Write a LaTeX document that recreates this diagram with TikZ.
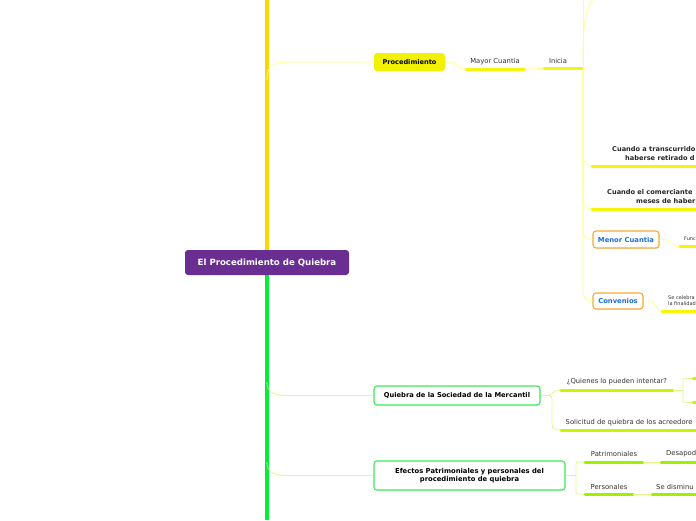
\documentclass[tikz,border=0pt]{standalone}
\usepackage{fontspec}
\setmainfont{DejaVu Sans}
\usetikzlibrary{shadows}
\definecolor{gold}{RGB}{255,215,0}
\definecolor{vgreen}{RGB}{0,238,51}
\definecolor{rootpurple}{RGB}{106,45,145}
\definecolor{ybox}{RGB}{242,242,0}
\definecolor{yline}{RGB}{245,245,10}
\definecolor{ythin}{RGB}{255,255,140}
\definecolor{lime}{RGB}{200,245,0}
\definecolor{limethin}{RGB}{220,250,140}
\definecolor{lgreen}{RGB}{160,240,0}
\definecolor{boxgreen}{RGB}{60,235,90}
\definecolor{orangeb}{RGB}{245,170,50}
\definecolor{blueT}{RGB}{30,110,220}
\begin{document}
\begin{tikzpicture}[x=1pt,y=-1pt,
  small/.style={font=\fontsize{6.8}{8}\selectfont, text=black!80, inner sep=0pt},
  tiny/.style={font=\fontsize{5}{6.2}\selectfont, text=black!80, inner sep=0pt, align=left},
  bsmall/.style={font=\fontsize{6.6}{8}\bfseries\selectfont, text=black!85, inner sep=0pt},
  boxw/.style={draw, line width=1.1pt, fill=white, rounded corners=3pt, drop shadow={opacity=0.12, shadow xshift=0.6pt, shadow yshift=-1pt}, align=center, inner sep=0pt},
  uline/.style={line width=3pt, line cap=round},
  thin/.style={line width=0.8pt}]
\useasboundingbox (0,0) rectangle (696,520);
\fill[white] (0,0) rectangle (696,520);
\begin{scope}
\clip (0,0) rectangle (696,520);
% main stems
\draw[gold, line width=3.5pt] (267,0) -- (267,250);
\draw[vgreen, line width=3.5pt] (267,275) -- (267,520);

% root
\node[fill=rootpurple, rounded corners=3pt, minimum width=164pt, minimum height=25pt, inner sep=0pt,
  text=white, font=\fontsize{8.6}{10}\bfseries\selectfont] (root) at (267,262.5) {El Procedimiento de Quiebra};

% Procedimiento branch
\node[fill=ybox, rounded corners=3pt, minimum width=71pt, minimum height=18pt, inner sep=0pt,
  font=\fontsize{6.6}{8}\bfseries\selectfont] (proc) at (409.5,62) {Procedimiento};
\coordinate (p0) at (267,80);
\draw[ythin, thin] (p0) .. controls (267,66) and (272,62) .. (290,62) -- (proc.west);

\node[small] (mayor) at (495,61.5) {Mayor Cuantia};
\coordinate (mu1) at (466,69); \coordinate (mu2) at (525,69);
\draw[ythin, thin] (proc.east) -- (452,62) .. controls (457,62) and (456,69) .. (mu1);
\draw[yline, uline] (mu1) -- (mu2);

\node[small] (inicia) at (558,60.5) {Inicia};
\coordinate (iu1) at (544,68.5); \coordinate (stem) at (583,68.5);
\draw[ythin, thin] (mu2) -- (iu1);
\draw[yline, uline] (iu1) -- (stem);

% stem of Inicia
\draw[ythin, thin] (stem) -- (583,0);
\draw[ythin, thin] (583,60) .. controls (583,20) and (586,6) .. (596,-4);
\foreach \yy in {166,209} {
  \draw[ythin, thin] (stem) -- (583,\yy-12) .. controls (583,\yy-3) and (586,\yy) .. (593,\yy);
}
\coordinate (c1a) at (592,166); \coordinate (c2a) at (592,209);
\draw[yline, uline] (c1a) -- (710,166);
\draw[yline, uline] (c2a) -- (710,209);
\node[bsmall, anchor=west] (c1l1) at (612,149) {Cuando a transcurrido};
\node[bsmall, anchor=west] (c1l2) at (625,158) {haberse retirado d};
\node[bsmall, anchor=west] (c2l1) at (607,192) {Cuando el comerciante};
\node[bsmall, anchor=west] (c2l2) at (636,201) {meses de haber};

\node[boxw, draw=orangeb, minimum width=66pt, minimum height=17pt, text=blueT,
  font=\fontsize{6.8}{8}\bfseries\selectfont] (menor) at (626,239.5) {Menor Cuantia};
\node[boxw, draw=orangeb, minimum width=50pt, minimum height=16pt, text=blueT,
  font=\fontsize{6.8}{8}\bfseries\selectfont] (conv) at (618,301) {Convenios};
\draw[ythin, thin] (stem) -- (583,228) .. controls (583,237) and (586,239.5) .. (menor.west);
\draw[ythin, thin] (stem) -- (583,289) .. controls (583,298) and (586,301) .. (conv.west);

\node[tiny, anchor=west] (func) at (684,239) {Func};
\coordinate (fu) at (680,246.5);
\draw[ythin, thin] (menor.east) -- (665,239.5) .. controls (672,239.5) and (671,246.5) .. (fu);
\draw[yline, uline] (fu) -- (710,246.5);

\node[tiny, anchor=west] (sec) at (668,301) {Se celebra\\la finalidad};
\coordinate (su) at (662,311);
\draw[ythin, thin] (conv.east) -- (649,301) .. controls (656,301) and (655,311) .. (su);
\draw[yline, uline] (su) -- (710,311);

% Quiebra branch
\node[boxw, draw=boxgreen, minimum width=166pt, minimum height=19pt,
  font=\fontsize{6.7}{8}\bfseries\selectfont] (quie) at (457,395.5) {Quiebra de la Sociedad de la Mercantil};
\coordinate (q0) at (267,382);
\draw[limethin, thin] (q0) .. controls (267,392) and (272,395.5) .. (290,395.5) -- (quie.west);

\node[small] (quien) at (617,382) {¿Quienes lo pueden intentar?};
\coordinate (qu1) at (561,390); \coordinate (qu2) at (673,390);
\node[small, anchor=west] (soli) at (565.5,422.5) {Solicitud de quiebra de los acreedore};
\coordinate (so1) at (561,430);
\draw[limethin, thin] (quie.east) -- (548,395.5) .. controls (552,395.5) and (552,390) .. (qu1);
\draw[limethin, thin] (548,395.5) .. controls (552,395.5) and (552,398) .. (552,402) -- (552,424) .. controls (552,429) and (555,430) .. (so1);
\draw[lime, uline] (qu1) -- (qu2);
\draw[lime, uline] (so1) -- (710,430);
\coordinate (qb) at (683,390);
\draw[limethin, thin] (qu2) -- (qb);
\draw[limethin, thin] (qb) -- (683,382) .. controls (683,378.5) .. (686,378.5) -- (692,378.5);
\draw[limethin, thin] (qb) -- (683,399) .. controls (683,402.5) .. (686,402.5) -- (692,402.5);
\draw[lime, uline] (693,378.5) -- (710,378.5);
\draw[lime, uline] (693,402.5) -- (710,402.5);

% Efectos branch
\node[boxw, draw=boxgreen, minimum width=191pt, minimum height=29pt,
  font=\fontsize{6.8}{8.4}\bfseries\selectfont] (efec) at (469.5,475.5) {Efectos Patrimoniales y personales del\\procedimiento de quiebra};
\coordinate (e0) at (267,462);
\draw[limethin, thin] (e0) .. controls (267,472) and (272,475.5) .. (290,475.5) -- (efec.west);

\node[small] (patr) at (614,453.5) {Patrimoniales};
\node[small] (pers) at (609,486.5) {Personales};
\node[small, anchor=west] (desa) at (666,453.5) {Desapod};
\node[small, anchor=west] (sedis) at (656,486.5) {Se disminu};
\coordinate (pa1) at (585,462); \coordinate (pa2) at (643,462);
\coordinate (pe1) at (585,494); \coordinate (pe2) at (633,494);
\coordinate (de1) at (661,462); \coordinate (sd1) at (652,494);
\draw[limethin, thin] (efec.east) -- (576,475.5);
\draw[limethin, thin] (576,475.5) -- (576,466) .. controls (576,462) .. (580,462) -- (pa1);
\draw[limethin, thin] (576,475.5) -- (576,490) .. controls (576,494) .. (580,494) -- (pe1);
\draw[lgreen, uline] (pa1) -- (pa2);
\draw[lgreen, uline] (pe1) -- (pe2);
\draw[limethin, thin] (pa2) -- (de1);
\draw[limethin, thin] (pe2) -- (sd1);
\draw[lgreen, uline] (de1) -- (710,462);
\draw[lgreen, uline] (sd1) -- (710,494);
\end{scope}
\end{tikzpicture}
\end{document}
